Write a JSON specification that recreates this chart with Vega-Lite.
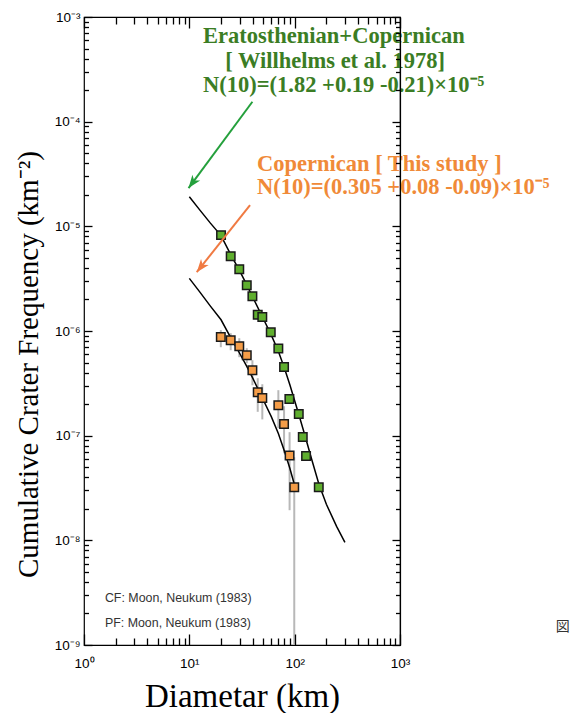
{
  "$schema": "https://vega.github.io/schema/vega-lite/v6.json",
  "width": 316,
  "height": 628,
  "autosize": {"type": "none"},
  "padding": {"left": 84, "top": 17, "right": 172, "bottom": 68},
  "background": "white",
  "config": {
    "view": {"stroke": "black", "strokeWidth": 1.2},
    "font": "Liberation Sans",
    "axis": {
      "grid": false,
      "domain": false,
      "ticks": true,
      "tickColor": "black",
      "tickWidth": 1.3,
      "tickOpacity": 1,
      "labelColor": "black",
      "labelFont": "Liberation Sans",
      "labelFontSize": 13.5,
      "labelFlush": false,
      "labelOverlap": false,
      "titleColor": "black",
      "titleFont": "Liberation Serif",
      "titleFontWeight": "normal"
    }
  },
  "datasets": {
    "pts": [
      {"grp": "E", "D": 20.0, "N": 8.24e-6},
      {"grp": "E", "D": 24.7, "N": 5.19e-6},
      {"grp": "E", "D": 29.8, "N": 3.90e-6},
      {"grp": "E", "D": 35.1, "N": 2.74e-6},
      {"grp": "E", "D": 39.7, "N": 2.15e-6},
      {"grp": "E", "D": 44.6, "N": 1.43e-6},
      {"grp": "E", "D": 49.3, "N": 1.36e-6},
      {"grp": "E", "D": 59.3, "N": 9.74e-7},
      {"grp": "E", "D": 70.0, "N": 6.80e-7},
      {"grp": "E", "D": 79.3, "N": 4.54e-7},
      {"grp": "E", "D": 89.1, "N": 2.24e-7},
      {"grp": "E", "D": 109.4, "N": 1.61e-7},
      {"grp": "E", "D": 119.4, "N": 9.72e-8},
      {"grp": "E", "D": 128.3, "N": 6.40e-8},
      {"grp": "E", "D": 169.4, "N": 3.21e-8},
      {"grp": "C", "D": 19.9, "N": 8.78e-7},
      {"grp": "C", "D": 24.7, "N": 8.17e-7},
      {"grp": "C", "D": 29.8, "N": 7.16e-7},
      {"grp": "C", "D": 35.1, "N": 5.87e-7},
      {"grp": "C", "D": 39.7, "N": 4.22e-7},
      {"grp": "C", "D": 44.6, "N": 2.60e-7},
      {"grp": "C", "D": 49.3, "N": 2.29e-7},
      {"grp": "C", "D": 70.0, "N": 1.95e-7},
      {"grp": "C", "D": 79.3, "N": 1.29e-7},
      {"grp": "C", "D": 89.5, "N": 6.45e-8},
      {"grp": "C", "D": 99.1, "N": 3.21e-8}
    ],
    "errs": [
      {"D": 19.9, "N": 7.00e-7, "N2": 1.02e-6},
      {"D": 24.7, "N": 6.55e-7, "N2": 9.53e-7},
      {"D": 29.8, "N": 5.62e-7, "N2": 8.53e-7},
      {"D": 35.1, "N": 4.92e-7, "N2": 6.85e-7},
      {"D": 39.7, "N": 3.03e-7, "N2": 5.26e-7},
      {"D": 44.6, "N": 1.69e-7, "N2": 3.54e-7},
      {"D": 49.3, "N": 1.43e-7, "N2": 3.10e-7},
      {"D": 70.0, "N": 1.18e-7, "N2": 2.72e-7},
      {"D": 79.3, "N": 6.79e-8, "N2": 1.91e-7},
      {"D": 89.5, "N": 1.94e-8, "N2": 1.08e-7},
      {"D": 99.1, "N": 1e-9, "N2": 6.22e-8}
    ],
    "curves": [
      {"grp": "E", "D": 10, "N": 1.914e-5},
      {"grp": "E", "D": 12.6, "N": 1.429e-5},
      {"grp": "E", "D": 15.85, "N": 1.073e-5},
      {"grp": "E", "D": 20, "N": 8.15e-6},
      {"grp": "E", "D": 25, "N": 5.25e-6},
      {"grp": "E", "D": 30, "N": 3.77e-6},
      {"grp": "E", "D": 35, "N": 2.77e-6},
      {"grp": "E", "D": 40, "N": 2.10e-6},
      {"grp": "E", "D": 50, "N": 1.33e-6},
      {"grp": "E", "D": 60, "N": 9.12e-7},
      {"grp": "E", "D": 70, "N": 6.41e-7},
      {"grp": "E", "D": 80, "N": 4.41e-7},
      {"grp": "E", "D": 90, "N": 3.07e-7},
      {"grp": "E", "D": 100, "N": 2.16e-7},
      {"grp": "E", "D": 110, "N": 1.57e-7},
      {"grp": "E", "D": 125, "N": 1.01e-7},
      {"grp": "E", "D": 145, "N": 5.95e-8},
      {"grp": "E", "D": 170, "N": 3.43e-8},
      {"grp": "E", "D": 200, "N": 2.21e-8},
      {"grp": "E", "D": 250, "N": 1.36e-8},
      {"grp": "E", "D": 300, "N": 9.57e-9},
      {"grp": "C", "D": 10, "N": 3.18e-6},
      {"grp": "C", "D": 12.6, "N": 2.35e-6},
      {"grp": "C", "D": 15.85, "N": 1.73e-6},
      {"grp": "C", "D": 20, "N": 1.28e-6},
      {"grp": "C", "D": 25, "N": 8.44e-7},
      {"grp": "C", "D": 30, "N": 6.13e-7},
      {"grp": "C", "D": 35, "N": 4.61e-7},
      {"grp": "C", "D": 40, "N": 3.54e-7},
      {"grp": "C", "D": 50, "N": 2.23e-7},
      {"grp": "C", "D": 60, "N": 1.52e-7},
      {"grp": "C", "D": 70, "N": 1.05e-7},
      {"grp": "C", "D": 80, "N": 7.10e-8},
      {"grp": "C", "D": 90, "N": 4.88e-8},
      {"grp": "C", "D": 101, "N": 3.21e-8}
    ],
    "arrows": [
      {"grp": "E", "D": 39.7, "N": 1.549e-4, "D2": 9.83, "N2": 2.318e-5},
      {"grp": "C", "D": 37.7, "N": 1.595e-5, "D2": 11.76, "N2": 3.648e-6}
    ],
    "notes": [
      {"grp": "E", "D": 13.5, "N": 5.64e-4, "text": "Eratosthenian+Copernican"},
      {"grp": "E", "D": 21.9, "N": 3.25e-4, "text": "[ Willhelms et al. 1978]"},
      {"grp": "E", "D": 13.5, "N": 1.94e-4, "text": "N(10)=(1.82 +0.19 -0.21)×10⁻⁵"},
      {"grp": "C", "D": 43.9, "N": 3.37e-5, "text": "Copernican [ This study ]"},
      {"grp": "C", "D": 43.9, "N": 2.03e-5, "text": "N(10)=(0.305 +0.08 -0.09)×10⁻⁵"},
      {"grp": "S", "D": 1.58, "N": 2.79e-9, "text": "CF: Moon, Neukum (1983)"},
      {"grp": "S", "D": 1.58, "N": 1.64e-9, "text": "PF: Moon, Neukum (1983)"},
      {"grp": "K", "D": 35000, "N": 1.5e-9, "text": "図"}
    ]
  },
  "layer": [
    {
      "data": {"name": "errs"},
      "mark": {"type": "rule", "color": "#b8b8b8", "strokeWidth": 2},
      "encoding": {
        "x": {"field": "D", "type": "quantitative", "scale": {"type": "log", "domain": [1, 1000], "nice": false},
          "axis": {"orient": "bottom", "values": [1, 10, 100, 1000], "offset": -11, "tickSize": 11, "labelPadding": 11,
            "labelExpr": "datum.value < 3 ? '10⁰' : datum.value < 30 ? '10¹' : datum.value < 300 ? '10²' : '10³'",
            "title": "Diametar (km)", "titleFontSize": 33, "titleBaseline": "alphabetic", "titleAlign": "center", "titleX": 158, "titleY": 72, "zindex": 1}},
        "y": {"field": "N", "type": "quantitative", "scale": {"type": "log", "domain": [1e-9, 1e-3], "nice": false},
          "axis": {"orient": "left", "values": [1e-9, 1e-8, 1e-7, 1e-6, 1e-5, 1e-4, 1e-3], "offset": -8, "tickSize": 8, "labelPadding": 4,
            "labelExpr": "datum.value < 3e-9 ? '10⁻⁹' : datum.value < 3e-8 ? '10⁻⁸' : datum.value < 3e-7 ? '10⁻⁷' : datum.value < 3e-6 ? '10⁻⁶' : datum.value < 3e-5 ? '10⁻⁵' : datum.value < 3e-4 ? '10⁻⁴' : '10⁻³'",
            "title": "Cumulative Crater Frequency (km⁻²)", "titleFontSize": 29, "titleAngle": 270, "titleBaseline": "alphabetic", "titleAlign": "center", "titleX": -55, "titleY": 347, "zindex": 1}},
        "y2": {"field": "N2"}
      }
    },
    {
      "data": {"name": "curves"},
      "mark": {"type": "line", "color": "black", "strokeWidth": 1.5},
      "encoding": {
        "x": {"field": "D", "type": "quantitative", "scale": {"type": "log", "domain": [1, 1000], "nice": false},
          "axis": {"orient": "bottom", "values": [2, 3, 4, 5, 6, 7, 8, 9, 20, 30, 40, 50, 60, 70, 80, 90, 200, 300, 400, 500, 600, 700, 800, 900], "offset": -7, "tickSize": 7, "labels": false, "title": null, "zindex": 1}},
        "y": {"field": "N", "type": "quantitative", "scale": {"type": "log", "domain": [1e-9, 1e-3], "nice": false},
          "axis": {"orient": "left", "values": [2e-9, 3e-9, 4e-9, 5e-9, 6e-9, 7e-9, 8e-9, 9e-9, 2e-8, 3e-8, 4e-8, 5e-8, 6e-8, 7e-8, 8e-8, 9e-8, 2e-7, 3e-7, 4e-7, 5e-7, 6e-7, 7e-7, 8e-7, 9e-7, 2e-6, 3e-6, 4e-6, 5e-6, 6e-6, 7e-6, 8e-6, 9e-6, 2e-5, 3e-5, 4e-5, 5e-5, 6e-5, 7e-5, 8e-5, 9e-5, 2e-4, 3e-4, 4e-4, 5e-4, 6e-4, 7e-4, 8e-4, 9e-4], "offset": -4.5, "tickSize": 4.5, "labels": false, "title": null, "zindex": 1}},
        "detail": {"field": "grp"},
        "order": {"field": "D", "type": "quantitative"}
      }
    },
    {
      "data": {"name": "pts"},
      "transform": [{"filter": "datum.grp == 'C'"}],
      "mark": {"type": "point", "shape": "square", "filled": true, "fill": "#f59d48", "stroke": "#1a1a1a", "strokeWidth": 1.5, "size": 72, "opacity": 1},
      "encoding": {
        "x": {"field": "D", "type": "quantitative", "scale": {"type": "log", "domain": [1, 1000], "nice": false},
          "axis": {"orient": "top", "values": [1, 10, 100, 1000], "offset": -11, "tickSize": 11, "labels": false, "title": null, "zindex": 1}},
        "y": {"field": "N", "type": "quantitative", "scale": {"type": "log", "domain": [1e-9, 1e-3], "nice": false},
          "axis": {"orient": "right", "values": [1e-9, 1e-8, 1e-7, 1e-6, 1e-5, 1e-4, 1e-3], "offset": -8, "tickSize": 8, "labels": false, "title": null, "zindex": 1}}
      }
    },
    {
      "data": {"name": "pts"},
      "transform": [{"filter": "datum.grp == 'E'"}],
      "mark": {"type": "point", "shape": "square", "filled": true, "fill": "#5fae2e", "stroke": "#1a1a1a", "strokeWidth": 1.5, "size": 72, "opacity": 1},
      "encoding": {
        "x": {"field": "D", "type": "quantitative", "scale": {"type": "log", "domain": [1, 1000], "nice": false},
          "axis": {"orient": "top", "values": [2, 3, 4, 5, 6, 7, 8, 9, 20, 30, 40, 50, 60, 70, 80, 90, 200, 300, 400, 500, 600, 700, 800, 900], "offset": -7, "tickSize": 7, "labels": false, "title": null, "zindex": 1}},
        "y": {"field": "N", "type": "quantitative", "scale": {"type": "log", "domain": [1e-9, 1e-3], "nice": false},
          "axis": {"orient": "right", "values": [2e-9, 3e-9, 4e-9, 5e-9, 6e-9, 7e-9, 8e-9, 9e-9, 2e-8, 3e-8, 4e-8, 5e-8, 6e-8, 7e-8, 8e-8, 9e-8, 2e-7, 3e-7, 4e-7, 5e-7, 6e-7, 7e-7, 8e-7, 9e-7, 2e-6, 3e-6, 4e-6, 5e-6, 6e-6, 7e-6, 8e-6, 9e-6, 2e-5, 3e-5, 4e-5, 5e-5, 6e-5, 7e-5, 8e-5, 9e-5, 2e-4, 3e-4, 4e-4, 5e-4, 6e-4, 7e-4, 8e-4, 9e-4], "offset": -4.5, "tickSize": 4.5, "labels": false, "title": null, "zindex": 1}}
      }
    },
    {
      "data": {"name": "arrows"},
      "transform": [{"filter": "datum.grp == 'E'"}],
      "mark": {"type": "rule", "color": "#24a03c", "strokeWidth": 2},
      "encoding": {
        "x": {"field": "D", "type": "quantitative", "scale": {"type": "log", "domain": [1, 1000], "nice": false}, "axis": null},
        "y": {"field": "N", "type": "quantitative", "scale": {"type": "log", "domain": [1e-9, 1e-3], "nice": false},
          "axis": {"orient": "right", "ticks": false, "labels": false, "title": null, "domain": true, "domainColor": "black", "domainWidth": 1.2, "zindex": 1}},
        "x2": {"field": "D2"},
        "y2": {"field": "N2"}
      }
    },
    {
      "data": {"name": "arrows"},
      "transform": [{"filter": "datum.grp == 'C'"}],
      "mark": {"type": "rule", "color": "#f07a42", "strokeWidth": 2},
      "encoding": {
        "x": {"field": "D", "type": "quantitative", "scale": {"type": "log", "domain": [1, 1000], "nice": false}, "axis": null},
        "y": {"field": "N", "type": "quantitative", "scale": {"type": "log", "domain": [1e-9, 1e-3], "nice": false}, "axis": null},
        "x2": {"field": "D2"},
        "y2": {"field": "N2"}
      }
    },
    {
      "data": {"name": "arrows"},
      "transform": [{"filter": "datum.grp == 'E'"}],
      "mark": {"type": "point", "shape": "M0,0L0.75,2L0,1.45L-0.75,2Z", "filled": true, "fill": "#24a03c", "strokeWidth": 0, "size": 170, "angle": 216.5, "opacity": 1},
      "encoding": {
        "x": {"field": "D2", "type": "quantitative", "scale": {"type": "log", "domain": [1, 1000], "nice": false}, "axis": null},
        "y": {"field": "N2", "type": "quantitative", "scale": {"type": "log", "domain": [1e-9, 1e-3], "nice": false}, "axis": null}
      }
    },
    {
      "data": {"name": "arrows"},
      "transform": [{"filter": "datum.grp == 'C'"}],
      "mark": {"type": "point", "shape": "M0,0L0.75,2L0,1.45L-0.75,2Z", "filled": true, "fill": "#f07a42", "strokeWidth": 0, "size": 170, "angle": 218.5, "opacity": 1},
      "encoding": {
        "x": {"field": "D2", "type": "quantitative", "scale": {"type": "log", "domain": [1, 1000], "nice": false}, "axis": null},
        "y": {"field": "N2", "type": "quantitative", "scale": {"type": "log", "domain": [1e-9, 1e-3], "nice": false}, "axis": null}
      }
    },
    {
      "data": {"name": "notes"},
      "transform": [{"filter": "datum.grp == 'E'"}],
      "mark": {"type": "text", "align": "left", "baseline": "alphabetic", "font": "Liberation Serif", "fontWeight": "bold", "fontSize": 22.5, "color": "#3b7d24"},
      "encoding": {
        "x": {"field": "D", "type": "quantitative", "scale": {"type": "log", "domain": [1, 1000], "nice": false}, "axis": null},
        "y": {"field": "N", "type": "quantitative", "scale": {"type": "log", "domain": [1e-9, 1e-3], "nice": false}, "axis": null},
        "text": {"field": "text"}
      }
    },
    {
      "data": {"name": "notes"},
      "transform": [{"filter": "datum.grp == 'C'"}],
      "mark": {"type": "text", "align": "left", "baseline": "alphabetic", "font": "Liberation Serif", "fontWeight": "bold", "fontSize": 22.5, "color": "#f08a38"},
      "encoding": {
        "x": {"field": "D", "type": "quantitative", "scale": {"type": "log", "domain": [1, 1000], "nice": false}, "axis": null},
        "y": {"field": "N", "type": "quantitative", "scale": {"type": "log", "domain": [1e-9, 1e-3], "nice": false}, "axis": null},
        "text": {"field": "text"}
      }
    },
    {
      "data": {"name": "notes"},
      "transform": [{"filter": "datum.grp == 'S'"}],
      "mark": {"type": "text", "align": "left", "baseline": "middle", "font": "Liberation Sans", "fontSize": 12.4, "color": "#333333"},
      "encoding": {
        "x": {"field": "D", "type": "quantitative", "scale": {"type": "log", "domain": [1, 1000], "nice": false}, "axis": null},
        "y": {"field": "N", "type": "quantitative", "scale": {"type": "log", "domain": [1e-9, 1e-3], "nice": false}, "axis": null},
        "text": {"field": "text"}
      }
    },
    {
      "data": {"name": "notes"},
      "transform": [{"filter": "datum.grp == 'K'"}],
      "mark": {"type": "text", "align": "center", "baseline": "middle", "font": "Noto Sans CJK JP", "fontSize": 14, "color": "#333333"},
      "encoding": {
        "x": {"field": "D", "type": "quantitative", "scale": {"type": "log", "domain": [1, 1000], "nice": false}, "axis": null},
        "y": {"field": "N", "type": "quantitative", "scale": {"type": "log", "domain": [1e-9, 1e-3], "nice": false}, "axis": null},
        "text": {"field": "text"}
      }
    }
  ],
  "resolve": {"axis": {"x": "independent", "y": "independent"}}
}
